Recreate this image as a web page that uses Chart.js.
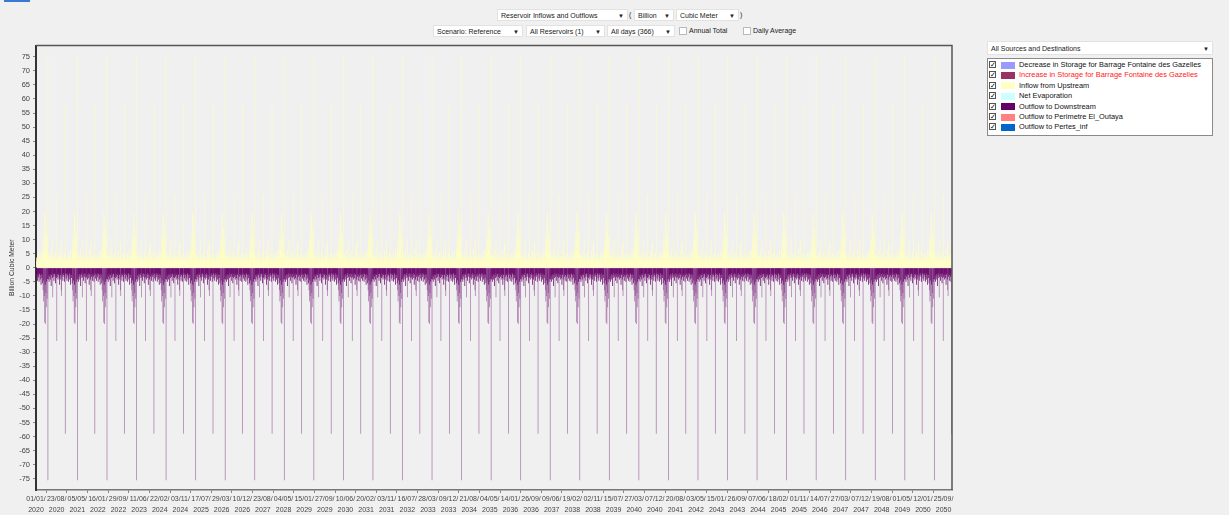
<!DOCTYPE html>
<html>
<head>
<meta charset="utf-8">
<script src="https://cdn.jsdelivr.net/npm/chart.js@4.4.1/dist/chart.umd.min.js"></script>
<style>
  html, body { margin:0; padding:0; }
  body { width:1229px; height:515px; overflow:hidden; background:#F0F0F0; position:relative;
         font-family:"Liberation Sans", Arial, sans-serif; color:#222; }
  .box { position:absolute; height:12px; background:#fff; border:1px solid #e2e2e2; font-size:7px;
         line-height:12px; padding-left:3px; box-sizing:border-box; white-space:nowrap; }
  .box .arr { position:absolute; right:3px; top:0; font-size:6px; }
  .txt { position:absolute; font-size:7px; line-height:12px; white-space:nowrap; }
  .cb { position:absolute; width:8px; height:8px; background:#fff; border:1px solid #bbb; box-sizing:border-box; }
  #legend { position:absolute; left:987px; top:58px; width:226px; height:78px; background:#fff;
            border:1px solid #8a8a8a; box-sizing:border-box; }
  .li { position:absolute; left:0; height:10px; width:224px; font-size:7.4px; line-height:10px; white-space:nowrap; }
  .li .chk { position:absolute; left:1px; top:1px; width:7px; height:7px; border:1px solid #555; box-sizing:border-box;
             font-size:7px; line-height:5px; text-align:center; color:#000; }
  .li .sw { position:absolute; left:13px; top:1.5px; width:14px; height:7px; }
  .li .lt { position:absolute; left:31px; top:0; }
  #chartWrap { position:absolute; left:0; top:38px; width:960px; height:477px; }
</style>
</head>
<body>
<div style="position:absolute;left:4px;top:0;width:26px;height:2px;background:#3a78d8;"></div>

<!-- row 1 controls -->
<div class="box" style="left:497px;top:9px;width:131px;">Reservoir Inflows and Outflows<span class="arr">▼</span></div>
<div class="txt" style="left:629px;top:9px;">(</div>
<div class="box" style="left:634px;top:9px;width:40px;">Billion<span class="arr">▼</span></div>
<div class="box" style="left:676px;top:9px;width:63px;">Cubic Meter<span class="arr">▼</span></div>
<div class="txt" style="left:740px;top:9px;">)</div>

<!-- row 2 controls -->
<div class="box" style="left:433px;top:25px;width:90px;">Scenario: Reference<span class="arr">▼</span></div>
<div class="box" style="left:526px;top:25px;width:79px;">All Reservoirs (1)<span class="arr">▼</span></div>
<div class="box" style="left:607px;top:25px;width:68px;">All days (366)<span class="arr">▼</span></div>
<div class="cb" style="left:679px;top:27px;"></div>
<div class="txt" style="left:689px;top:25px;">Annual Total</div>
<div class="cb" style="left:743px;top:27px;"></div>
<div class="txt" style="left:753px;top:25px;">Daily Average</div>

<!-- right panel -->
<div class="box" style="left:987px;top:41px;width:226px;height:14px;line-height:14px;">All Sources and Destinations<span class="arr" style="line-height:14px;">▼</span></div>
<div id="legend"></div>

<div id="chartWrap"><canvas id="c" width="960" height="477"></canvas></div>

<script>
// ---------------- data ----------------
const years = [2020,2021,2022,2023,2024,2025,2026,2027,2028,2029,2030,2031,2032,2033,2034,2035,
               2036,2037,2038,2039,2040,2041,2042,2043,2044,2045,2046,2047,2048,2049,2050];
const daysPerYear = 366;
const stepDays = 5;   // each value below covers 5 days of a year (73 values per year)

// Inflow from Upstream (Billion m3), one year of values (same every year)
const inflowYear = [
  2.4, 3.6, 2.1, 4.6, 2.6, 2.0, 3.2, 5.2, 2.3, 2.0, 4.2, 2.6, 6.2, 2.1, 3.4, 2.6,
  5.6, 8.0, 12.0, 4.6, 10.0, 19.5, 6.0, 19.0, 9.0, 14.0, 5.0, 11.0, 4.0, 75.5,
  4.0, 2.6, 5.0, 3.0, 2.2, 4.2, 2.4, 6.5, 2.6, 2.0, 3.6, 10.0, 3.0, 2.1, 4.6,
  2.3, 2.0, 3.2, 5.6, 2.1, 3.6, 26.0, 3.0, 2.1, 4.2, 2.6, 2.0, 3.6, 6.2, 2.1,
  2.6, 4.2, 8.5, 9.5, 3.0, 2.1, 4.6, 2.6, 2.0, 3.2, 5.2, 2.6, 58.5
];
// Outflow to Downstream (negative, Billion m3), one year of values
const outflowYear = [
  -2.0, -3.8, -2.2, -4.6, -2.6, -1.9, -3.4, -5.0, -2.3, -1.9, -4.2, -2.6, -6.0, -2.2, -3.6, -2.6,
  -5.5, -8.0, -12.0, -4.5, -10.0, -19.5, -6.0, -20.0, -9.0, -14.0, -5.0, -11.0, -4.0, -75.5,
  -4.2, -2.6, -5.0, -3.2, -2.2, -4.2, -2.4, -6.5, -2.6, -1.9, -3.6, -10.5, -3.2, -2.2, -4.6,
  -2.3, -1.9, -3.2, -5.5, -2.2, -3.6, -26.0, -3.2, -2.2, -4.2, -2.6, -1.9, -3.6, -6.0, -2.2,
  -2.6, -4.2, -8.0, -10.0, -3.2, -2.2, -4.6, -2.6, -1.9, -3.2, -5.0, -2.6, -59.0
];

const seriesNames = [
  "Decrease in Storage for Barrage Fontaine des Gazelles",
  "Increase in Storage for Barrage Fontaine des Gazelles",
  "Inflow from Upstream",
  "Net Evaporation",
  "Outflow to Downstream",
  "Outflow to Perimetre El_Outaya",
  "Outflow to Pertes_inf"
];
const seriesColors = ["#9999FF","#993366","#FFFFC4","#CCFFFF","#650065","#FF8080","#0066CC"];
// thin isolated peaks render paler in the original (anti-aliased 1px lines)
const peakColors   = ["#9999FF","#993366","rgba(255,255,190,0.75)","#CCFFFF","rgba(110,20,115,0.55)","#FF8080","#0066CC"];
const legendTextColors = ["#111","#FF2020","#111","#111","#111","#111","#111"];

const xTickLabels = [
  "01/01/2020","23/08/2020","05/05/2021","16/01/2022","29/09/2022","11/06/2023","22/02/2024","03/11/2024",
  "17/07/2025","29/03/2026","10/12/2026","23/08/2027","04/05/2028","15/01/2029","27/09/2029","10/06/2030",
  "20/02/2031","03/11/2031","16/07/2032","28/03/2033","09/12/2033","21/08/2034","04/05/2035","14/01/2036",
  "26/09/2036","09/06/2037","19/02/2038","02/11/2038","15/07/2039","27/03/2040","07/12/2040","20/08/2041",
  "03/05/2042","15/01/2043","26/09/2043","07/06/2044","18/02/2045","01/11/2045","14/07/2046","27/03/2047",
  "07/12/2047","19/08/2048","01/05/2049","12/01/2050","25/09/2050"
];
const tickStepDays = 255.5;

// ---------------- build series ----------------
function buildSeries(yearValues) {
  const out = [];
  years.forEach((yr, yi) => {
    yearValues.forEach((v, i) => {
      out.push({ x: yi * daysPerYear + i * stepDays + stepDays / 2, y: v });
    });
  });
  return out;
}
const seriesData = [[], [], buildSeries(inflowYear), [], buildSeries(outflowYear), [], []];

const datasets = seriesNames.map((name, k) => ({
  label: name,
  data: seriesData[k],
  backgroundColor: (ctx) => {
    const v = ctx.raw && typeof ctx.raw.y === 'number' ? Math.abs(ctx.raw.y) : 0;
    return v > 7 ? peakColors[k] : seriesColors[k];
  },
  borderWidth: 0,
  barPercentage: 1.8,
  categoryPercentage: 1,
  inflateAmount: 0
}));

// ---------------- HTML legend ----------------
const leg = document.getElementById('legend');
seriesNames.forEach((name, k) => {
  const d = document.createElement('div');
  d.className = 'li';
  d.style.top = (1 + k * 10.4) + 'px';
  d.innerHTML = '<span class="chk">✓</span><span class="sw" style="background:' + seriesColors[k] +
    '"></span><span class="lt" style="color:' + legendTextColors[k] + '">' + name + '</span>';
  leg.appendChild(d);
});

// ---------------- chart ----------------
const framePlugin = {
  id: 'frame',
  afterDraw(chart) {
    const {ctx, chartArea: a} = chart;
    ctx.save();
    ctx.strokeStyle = '#555';
    ctx.lineWidth = 1.5;
    ctx.beginPath();
    ctx.moveTo(a.left, a.top); ctx.lineTo(a.right, a.top); ctx.lineTo(a.right, a.bottom);
    ctx.stroke();
    ctx.restore();
  }
};

const font7 = { family: '"Liberation Sans", Arial, sans-serif', size: 7 };

new Chart(document.getElementById('c'), {
  type: 'bar',
  data: { datasets },
  plugins: [framePlugin],
  options: {
    responsive: false,
    animation: false,
    events: [],
    layout: { padding: { top: 1, right: 8, left: 0, bottom: 0 } },
    plugins: { legend: { display: false }, tooltip: { enabled: false } },
    scales: {
      x: {
        type: 'linear',
        stacked: true,
        offset: false,
        min: 0,
        max: years.length * daysPerYear,
        afterBuildTicks(scale) {
          scale.ticks = xTickLabels.map((l, k) => ({ value: k * tickStepDays }));
        },
        afterFit(scale) { scale.height = 25; },
        ticks: {
          autoSkip: false, maxRotation: 0, minRotation: 0, padding: 0,
          color: '#444', font: { ...font7, lineHeight: 1.6 },
          callback: (v, i) => { const s = xTickLabels[i]; return [s.slice(0, 6), s.slice(6)]; }
        },
        grid: { drawOnChartArea: false, tickLength: 3, color: '#888' },
        border: { display: true, color: '#777', width: 1.5 }
      },
      y: {
        stacked: true,
        min: -79,
        max: 79,
        afterFit(scale) { scale.width = 36; },
        ticks: { stepSize: 5, includeBounds: false, color: '#444', padding: 3,
                 font: { ...font7, size: 7.5 } },
        grid: { drawOnChartArea: false, tickLength: 3, color: '#888' },
        border: { display: true, color: '#333', width: 2 },
        title: { display: true, text: 'Billion Cubic Meter', color: '#333',
                 font: { ...font7, size: 6.8 }, padding: { top: 8, bottom: 0 } }
      }
    }
  }
});
</script>
</body>
</html>
